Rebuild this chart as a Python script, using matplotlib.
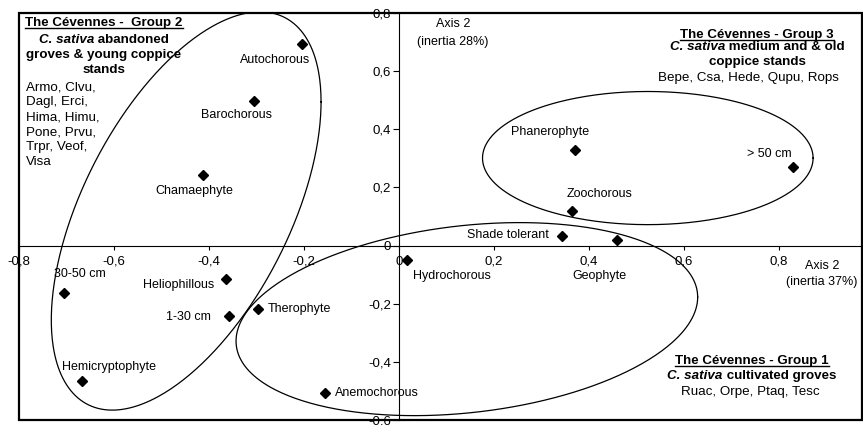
import numpy as np
import matplotlib
matplotlib.use("Agg")
import matplotlib.pyplot as plt
from matplotlib.lines import Line2D
from matplotlib.patches import Rectangle
from matplotlib.transforms import IdentityTransform

plt.rcParams['font.family'] = ['Liberation Sans', 'DejaVu Sans']

# traits (factorial plane, axis 1 x axis 2)
labels = ["Autochorous", "Barochorous", "Chamaephyte", "30-50 cm", "Heliophillous",
          "1-30 cm", "Therophyte", "Hemicryptophyte", "Anemochorous", "Hydrochorous",
          "Phanerophyte", "> 50 cm", "Zoochorous", "Shade tolerant", "Geophyte"]
axis1 = [-0.204, -0.305, -0.413, -0.705, -0.364, -0.358, -0.297, -0.667, -0.156, 0.017,
         0.371, 0.829, 0.364, 0.343, 0.459]
axis2 = [0.693, 0.497, 0.243, -0.163, -0.115, -0.243, -0.218, -0.466, -0.507, -0.050,
         0.329, 0.270, 0.119, 0.033, 0.019]

# label placement: offset in pixels and alignment
lab_dx = [-27, -18, -8, -10, -12, -18, 10, -20, 10, 6, -25, -23, 28, -13, -17]
lab_dy = [-16, -14, -16, 19, -6, -1, 0, 14, 0, -16, 18, 13, 17, 1, -36]
lab_ha = ["center", "center", "center", "left", "right", "right", "left", "left", "left",
          "left", "center", "center", "center", "right", "center"]

# group ellipses: centre, half x extent, half y extent, cos(phase shift)
ell_cx = [-0.448, 0.143, 0.524]
ell_cy = [0.119, -0.253, 0.301]
ell_ax = [0.284, 0.486, 0.348]
ell_by = [0.685, 0.332, 0.229]
ell_tilt = [0.548, 0.228, 0.0]

x_ticks = [-0.8, -0.6, -0.4, -0.2, 0.0, 0.2, 0.4, 0.6, 0.8]
y_ticks = [-0.6, -0.4, -0.2, 0.0, 0.2, 0.4, 0.6, 0.8]

g2_list = ["Armo, Clvu,", "Dagl, Erci,", "Hima, Himu,", "Pone, Prvu,", "Trpr, Veof,", "Visa"]

fig = plt.figure(figsize=(8.63, 4.25), dpi=100)
ax = fig.add_axes([19 / 863, 5 / 425, 843 / 863, 407 / 425])
ax.set_xlim(-0.8, 0.975)
ax.set_ylim(-0.6, 0.8)

for s in ["top", "right"]:
    ax.spines[s].set_visible(False)
ax.spines["left"].set_position(("data", 0))
ax.spines["bottom"].set_position(("data", 0))
ax.spines["left"].set_linewidth(0.8)
ax.spines["bottom"].set_linewidth(0.8)

fmt = lambda v: "0" if abs(v) < 1e-9 else f"{v:.1f}".replace(".", ",")
ax.set_xticks(x_ticks)
ax.set_xticklabels([fmt(v) for v in x_ticks])
ax.set_yticks(y_ticks)
ax.set_yticklabels([fmt(v) for v in y_ticks])
ax.tick_params(axis="x", direction="out", length=3, width=0.8, pad=4.5, labelsize=9.5)
ax.tick_params(axis="y", direction="out", length=4.5, width=0.8, pad=1, labelsize=9.5)

# frame around the plot area
ax.add_patch(Rectangle((0, 0), 1, 1, transform=ax.transAxes, fill=False,
                       lw=1.6, ec="black", clip_on=False, zorder=5))

# ellipses
t = np.linspace(0, 2 * np.pi, 400)
for cx, cy, a, b, c in zip(ell_cx, ell_cy, ell_ax, ell_by, ell_tilt):
    d = np.arccos(c)
    ax.plot(cx + a * np.cos(t), cy + b * np.cos(t - d), color="black", lw=0.9)

ax.plot(axis1, axis2, linestyle="none", marker="D", markersize=5, color="black", zorder=4)
for name, x, y, dx, dy, ha in zip(labels, axis1, axis2, lab_dx, lab_dy, lab_ha):
    ax.annotate(name, (x, y), xytext=(dx, dy), textcoords="offset pixels",
                ha=ha, va="center", fontsize=9)

# axis names
ax.text(0.114, 0.762, "Axis 2", ha="center", va="center", fontsize=9)
ax.text(0.114, 0.700, "(inertia 28%)", ha="center", va="center", fontsize=9)
ax.text(0.891, -0.071, "Axis 2", ha="center", va="center", fontsize=9)
ax.text(0.891, -0.126, "(inertia 37%)", ha="center", va="center", fontsize=9)

renderer = fig.canvas.get_renderer()
GS = 9.6


def title(x, y, s):
    tt = ax.text(x, y, s, ha="center", va="baseline", fontsize=GS, fontweight="bold")
    bb = tt.get_window_extent(renderer)
    yb = ax.transData.transform((x, y))[1] - 2
    fig.add_artist(Line2D([bb.x0, bb.x1], [yb, yb], transform=IdentityTransform(),
                          color="black", lw=1.0))


def mixed(x, y, pieces):
    arts = [ax.text(x, y, s, ha="left", va="center", fontsize=GS, fontweight="bold",
                    fontstyle=st) for s, st in pieces]
    widths = [a.get_window_extent(renderer).width for a in arts]
    xd, yd = ax.transData.transform((x, y))
    start = xd - sum(widths) / 2
    for a, w in zip(arts, widths):
        a.set_position(ax.transData.inverted().transform((start, yd)))
        start += w


# group 2
title(-0.621, 0.754, "The Cévennes -  Group 2")
mixed(-0.621, 0.707, [("C. sativa", "italic"), (" abandoned", "normal")])
ax.text(-0.621, 0.655, "groves & young coppice", ha="center", va="center", fontsize=GS, fontweight="bold")
ax.text(-0.621, 0.604, "stands", ha="center", va="center", fontsize=GS, fontweight="bold")
for i, s in enumerate(g2_list):
    ax.text(-0.785, 0.545 - i * 0.0516, s, ha="left", va="center", fontsize=GS)

# group 3
title(0.754, 0.713, "The Cévennes - Group 3")
mixed(0.754, 0.683, [("C. sativa", "italic"), (" medium and & old", "normal")])
ax.text(0.754, 0.631, "coppice stands", ha="center", va="center", fontsize=GS, fontweight="bold")
ax.text(0.735, 0.576, "Bepe, Csa, Hede, Qupu, Rops", ha="center", va="center", fontsize=GS)

# group 1
title(0.743, -0.407, "The Cévennes - Group 1")
mixed(0.743, -0.449, [("C. sativa", "italic"), (" cultivated groves", "normal")])
ax.text(0.739, -0.504, "Ruac, Orpe, Ptaq, Tesc", ha="center", va="center", fontsize=GS)

fig.savefig("out.png", dpi=100)
